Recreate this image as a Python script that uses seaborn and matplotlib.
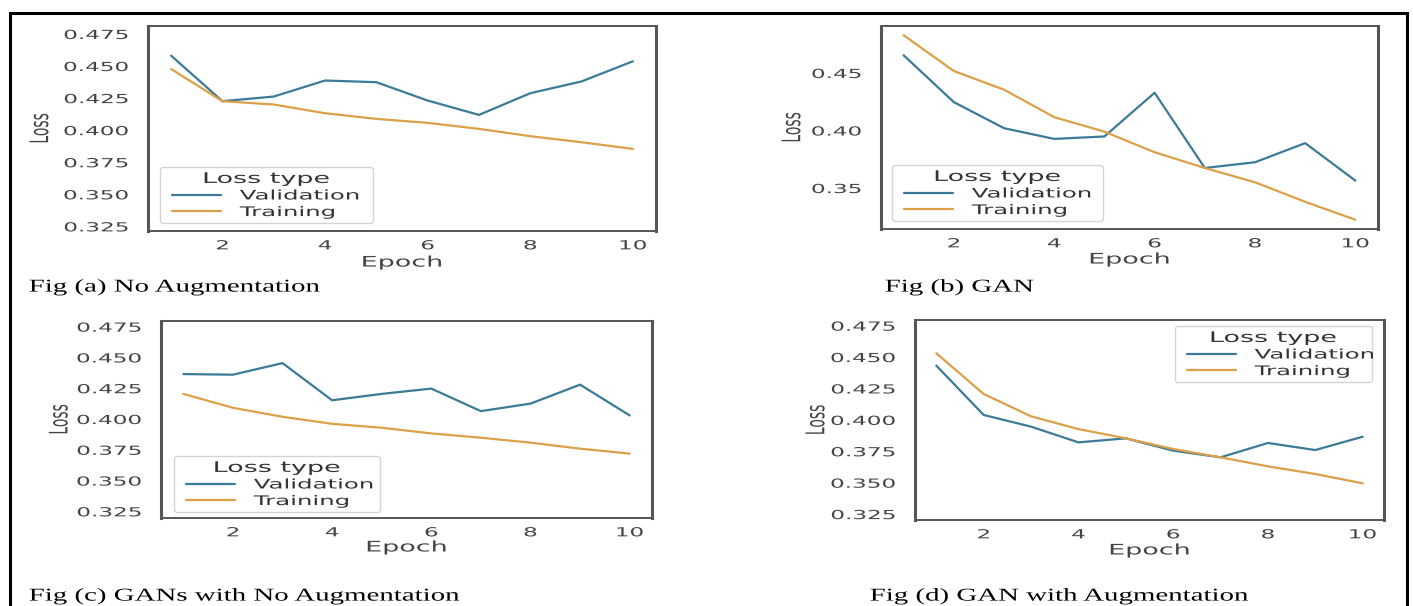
import matplotlib
matplotlib.use("Agg")
import matplotlib.pyplot as plt
import matplotlib.patches as mpatches
from matplotlib.patheffects import AbstractPathEffect
from matplotlib.transforms import Affine2D
from matplotlib.legend_handler import HandlerLine2D
from matplotlib.lines import Line2D
from matplotlib.ticker import FormatStrFormatter
import pandas as pd
import seaborn as sns

epochs = list(range(1, 11))

# Fig (a) No Augmentation
a_val = [0.4581, 0.4226, 0.4262, 0.4387, 0.4374, 0.4231, 0.4119, 0.4288, 0.4380, 0.4537]
a_train = [0.4477, 0.4226, 0.4200, 0.4132, 0.4088, 0.4057, 0.4010, 0.3953, 0.3906, 0.3854]
# Fig (b) GAN
b_val = [0.4654, 0.4247, 0.4020, 0.3927, 0.3948, 0.4328, 0.3674, 0.3724, 0.3890, 0.3564]
b_train = [0.4828, 0.4517, 0.4355, 0.4116, 0.3990, 0.3811, 0.3674, 0.3550, 0.3380, 0.3224]
# Fig (c) GANs with No Augmentation
c_val = [0.4365, 0.4360, 0.4454, 0.4152, 0.4204, 0.4247, 0.4064, 0.4125, 0.4279, 0.4029]
c_train = [0.4204, 0.4091, 0.4018, 0.3961, 0.3929, 0.3883, 0.3848, 0.3808, 0.3759, 0.3719]
# Fig (d) GAN with Augmentation
d_val = [0.4432, 0.4039, 0.3946, 0.3821, 0.3853, 0.3755, 0.3702, 0.3816, 0.3760, 0.3866]
d_train = [0.4530, 0.4206, 0.4028, 0.3927, 0.3853, 0.3768, 0.3702, 0.3630, 0.3569, 0.3495]

yticks_fine = [0.325, 0.350, 0.375, 0.400, 0.425, 0.450, 0.475]
yticks_b = [0.35, 0.40, 0.45]
xticks = [2, 4, 6, 8, 10]
captions = ["Fig (a) No Augmentation", "Fig (b) GAN",
            "Fig (c) GANs with No Augmentation", "Fig (d) GAN with Augmentation"]

BLUE = "#3b7b98"
ORANGE = "#dca048"
GREY = "#444444"
LW = 1.6
SX = 1.85      # plots in the screenshot are stretched sideways
SX_CAP = 1.6


class Stretch(AbstractPathEffect):
    """draw text widened horizontally around one of its edges / centre"""
    def __init__(self, sx, anchor="center"):
        super().__init__()
        self.sx = sx
        self.anchor = anchor

    def draw_path(self, renderer, gc, tpath, affine, rgbFace=None):
        bb = tpath.get_extents(affine)
        if self.anchor == "left":
            cx = bb.x0
        elif self.anchor == "right":
            cx = bb.x1
        else:
            cx = (bb.x0 + bb.x1) / 2
        aff = affine + Affine2D().translate(-cx, 0).scale(self.sx, 1).translate(cx, 0)
        renderer.draw_path(gc, tpath, aff, rgbFace)


sns.set_theme(style="white")
plt.rcParams["font.family"] = ["DejaVu Sans"]

W, H = 1413, 606
fig = plt.figure(figsize=(W / 100, H / 100), dpi=100)

panels = [
    dict(val=a_val, train=a_train, box=(148, 26, 656, 231), ylim=(0.3214, 0.4812),
         yt=yticks_fine, fmt="%.3f", ylab=-0.199, xlab=-0.115,
         leg=(0.0236, 0.039, 0.419, 0.0), loc="lower left", cap=(29, 287)),
    dict(val=b_val, train=b_train, box=(881, 26, 1378, 229), ylim=None,
         yt=yticks_b, fmt="%.2f", ylab=-0.165, xlab=-0.111,
         leg=(0.0221, 0.0394, 0.4245, 0.0), loc="lower left", cap=(885, 287)),
    dict(val=c_val, train=c_train, box=(161, 321, 652, 518), ylim=(0.3196, 0.4796),
         yt=yticks_fine, fmt="%.3f", ylab=-0.193, xlab=-0.109,
         leg=(0.0265, 0.0305, 0.4196, 0.0), loc="lower left", cap=(29, 596)),
    dict(val=d_val, train=d_train, box=(915, 320, 1384, 520), ylim=(0.3203, 0.4795),
         yt=yticks_fine, fmt="%.3f", ylab=-0.196, xlab=-0.1125,
         leg=(0.554, 0.0, 0.42, 0.97), loc="upper right", cap=(870, 596)),
]

for p, cap in zip(panels, captions):
    l, t, r, b = p["box"]
    ax = fig.add_axes([l / W, 1 - b / H, (r - l) / W, (b - t) / H])
    df = pd.DataFrame({
        "Epoch": epochs * 2,
        "Loss": p["val"] + p["train"],
        "Loss type": ["Validation"] * len(epochs) + ["Training"] * len(epochs),
    })
    sns.lineplot(data=df, x="Epoch", y="Loss", hue="Loss type",
                 palette=[BLUE, ORANGE], linewidth=LW, ax=ax)

    if p["ylim"] is not None:
        ax.set_ylim(*p["ylim"])
    ax.set_xticks(xticks)
    ax.set_yticks(p["yt"])
    ax.yaxis.set_major_formatter(FormatStrFormatter(p["fmt"]))
    ax.tick_params(axis="x", length=0, pad=6, labelsize=9, labelcolor=GREY)
    ax.tick_params(axis="y", length=0, pad=14, labelsize=9, labelcolor=GREY)
    for s in ["left", "right"]:
        ax.spines[s].set_linewidth(2.2)
        ax.spines[s].set_color("#555555")
    for s in ["top", "bottom"]:
        ax.spines[s].set_linewidth(1.4)
        ax.spines[s].set_color("#555555")

    ax.set_xlabel("Epoch", fontsize=10.5, color=GREY)
    ax.set_ylabel("Loss", fontsize=10, color=GREY)
    ax.xaxis.set_label_coords(0.5, p["xlab"])
    ax.yaxis.set_label_coords(p["ylab"], 0.5)
    ax.xaxis.label.set_path_effects([Stretch(SX)])
    ax.yaxis.label.set_path_effects([Stretch(SX)])
    for lab in ax.get_xticklabels():
        lab.set_path_effects([Stretch(SX)])
    for lab in ax.get_yticklabels():
        lab.set_path_effects([Stretch(SX, "right")])

    handles = [Line2D([], [], color=BLUE, lw=LW), Line2D([], [], color=ORANGE, lw=LW)]
    leg = ax.legend(handles, ["Validation", "Training"], title="Loss type",
                    loc=p["loc"], bbox_to_anchor=p["leg"], mode="expand",
                    borderaxespad=0, borderpad=0.3, labelspacing=0.27,
                    handlelength=4.3, handletextpad=1.45, fontsize=9.5,
                    title_fontsize=10.5, frameon=True, framealpha=1,
                    edgecolor="#d4d4d4",
                    handler_map={Line2D: HandlerLine2D(xpad=0.6)})
    leg.get_title().set_color("#333333")
    leg.get_title().set_path_effects([Stretch(SX)])
    for txt in leg.get_texts():
        txt.set_color("#333333")
        txt.set_path_effects([Stretch(SX, "left")])

    cx, cy = p["cap"]
    fig.text(cx / W, 1 - cy / H, cap, family="Liberation Serif", fontsize=13,
             color="black", ha="left", va="center",
             path_effects=[Stretch(SX_CAP, "left")])

# page border around the four panels
border = mpatches.Rectangle((10 / W, -0.1), (1407 - 10) / W, 1 - 13 / H + 0.1,
                            transform=fig.transFigure, fill=False,
                            edgecolor="black", linewidth=2.2, clip_on=False)
fig.patches.append(border)

fig.savefig("out.png", dpi=100)
